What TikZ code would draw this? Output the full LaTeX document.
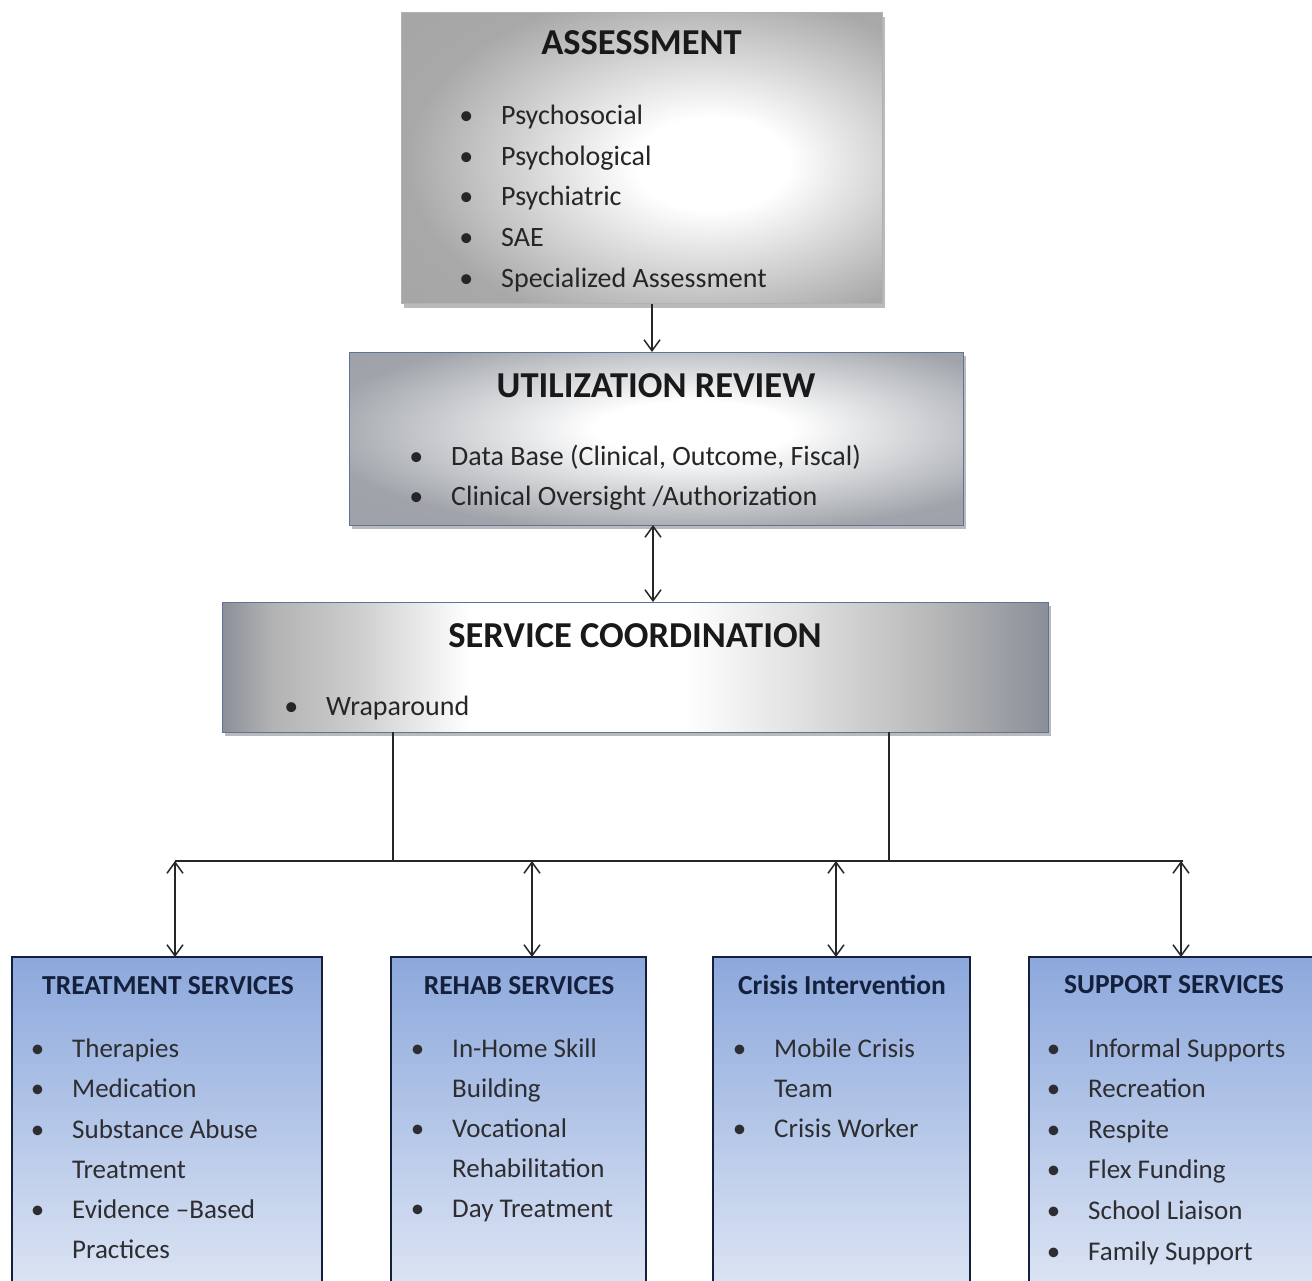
\documentclass[tikz,border=0pt]{standalone}
\usepackage{fontspec}
\setmainfont{Carlito}
\usetikzlibrary{arrows.meta,shadows}
\definecolor{navy}{RGB}{20,32,60}
\definecolor{itemgray}{RGB}{45,45,50}
\definecolor{bluetop}{RGB}{140,168,220}
\definecolor{bluebot}{RGB}{222,230,244}
\definecolor{slate}{RGB}{95,115,150}
\definecolor{midgray}{RGB}{160,164,170}
\definecolor{edgegray}{RGB}{138,143,152}
\pgfdeclareradialshading{shAssess}{\pgfpoint{8bp}{-1bp}}{color(0bp)=(white); color(8bp)=(white); color(30bp)=(black!34); color(100bp)=(black!42)}
\pgfdeclareradialshading{shReview}{\pgfpoint{3.3bp}{3bp}}{color(0bp)=(white); color(8bp)=(white); color(30bp)=(midgray); color(100bp)=(edgegray)}
\pgfdeclarehorizontalshading{shCoord}{100bp}{color(0bp)=(edgegray); color(25bp)=(edgegray); color(28bp)=(black!30); color(33bp)=(black!20); color(40bp)=(white); color(53bp)=(white); color(60bp)=(black!12); color(68bp)=(black!28); color(75bp)=(edgegray); color(100bp)=(edgegray)}
\tikzset{
  topbox/.style={draw, line width=1pt, inner sep=0pt, outer sep=0pt, anchor=north west,
    drop shadow={shadow xshift=3pt, shadow yshift=-4pt, opacity=0.45, fill=black!60}},
  botbox/.style={draw=navy, line width=1.6pt, inner sep=0pt, outer sep=0pt, anchor=north west,
    top color=bluetop, bottom color=bluebot},
  bigtitle/.style={anchor=base, inner sep=0pt, font=\fontsize{36.5}{40}\selectfont\bfseries, text=black!90},
  smalltitle/.style={anchor=base, inner sep=0pt, font=\fontsize{27.5}{32}\selectfont\bfseries, text=navy},
  topitem/.style={anchor=base west, inner sep=0pt, font=\fontsize{28}{34}\selectfont, text=black!85},
  botitem/.style={anchor=base west, inner sep=0pt, font=\fontsize{27}{32}\selectfont, text=itemgray},
  conn/.style={line width=1.6pt, draw=black!85},
  arr/.style={conn, -{Straight Barb[length=11pt,width=16pt,line width=1.5pt]}},
  darr/.style={conn, {Straight Barb[length=11pt,width=16pt,line width=1.5pt]}-{Straight Barb[length=11pt,width=16pt,line width=1.5pt]}}
}
\newcommand{\bul}{\llap{\textbullet\hspace{28pt}}}
\begin{document}
\begin{tikzpicture}[x=1pt,y=-1pt]
\clip (0,0) rectangle (1312,1281);
\fill[white] (0,0) rectangle (1312,1281);

% top boxes
\node[topbox, shading=shAssess, draw=black!30, minimum width=481pt, minimum height=291pt] (assess) at (401,13) {};
\node[topbox, shading=shReview, draw=slate, minimum width=614pt, minimum height=173pt] (review) at (349,352) {};
\node[topbox, shading=shCoord, draw=slate, minimum width=826pt, minimum height=130pt] (coord) at (222,602) {};

% bottom boxes
\node[botbox, minimum width=310pt, minimum height=340pt] (treat) at (12,957) {};
\node[botbox, minimum width=255pt, minimum height=340pt] (rehab) at (391,957) {};
\node[botbox, minimum width=257pt, minimum height=340pt] (crisis) at (713,957) {};
\node[botbox, minimum width=290pt, minimum height=340pt] (support) at (1029,957) {};

% ASSESSMENT text
\node[bigtitle] (tA) at (641.5,55) {ASSESSMENT};
\node[topitem] (a1) at (501,125) {\bul Psychosocial};
\node[topitem] (a2) at (501,166) {\bul Psychological};
\node[topitem] (a3) at (501,206) {\bul Psychiatric};
\node[topitem] (a4) at (501,247) {\bul SAE};
\node[topitem] (a5) at (501,288) {\bul Specialized Assessment};

% UTILIZATION REVIEW text
\node[bigtitle] (tU) at (656,397) {UTILIZATION REVIEW};
\node[topitem] (u1) at (451,465) {\bul Data Base (Clinical, Outcome, Fiscal)};
\node[topitem] (u2) at (451,505) {\bul Clinical Oversight /Authorization};

% SERVICE COORDINATION text
\node[bigtitle] (tS) at (635,647) {SERVICE COORDINATION};
\node[topitem] (s1) at (326,715) {\bul Wraparound};

% TREATMENT SERVICES
\node[smalltitle] (tT) at (168,994) {TREATMENT SERVICES};
\node[botitem] (t1) at (72,1057) {\bul Therapies};
\node[botitem] (t2) at (72,1097) {\bul Medication};
\node[botitem] (t3) at (72,1138) {\bul Substance Abuse};
\node[botitem] (t4) at (72,1178) {Treatment};
\node[botitem] (t5) at (72,1218) {\bul Evidence --Based};
\node[botitem] (t6) at (72,1258) {Practices};

% REHAB SERVICES
\node[smalltitle] (tR) at (519,994) {REHAB SERVICES};
\node[botitem] (r1) at (452,1057) {\bul In-Home Skill};
\node[botitem] (r2) at (452,1097) {Building};
\node[botitem] (r3) at (452,1137) {\bul Vocational};
\node[botitem] (r4) at (452,1177) {Rehabilitation};
\node[botitem] (r5) at (452,1217) {\bul Day Treatment};

% Crisis Intervention
\node[smalltitle] (tC) at (842,994) {Crisis Intervention};
\node[botitem] (c1) at (774,1057) {\bul Mobile Crisis};
\node[botitem] (c2) at (774,1097) {Team};
\node[botitem] (c3) at (774,1137) {\bul Crisis Worker};

% SUPPORT SERVICES
\node[smalltitle] (tP) at (1174,993) {SUPPORT SERVICES};
\node[botitem] (p1) at (1088,1057) {\bul Informal Supports};
\node[botitem] (p2) at (1088,1097) {\bul Recreation};
\node[botitem] (p3) at (1088,1138) {\bul Respite};
\node[botitem] (p4) at (1088,1178) {\bul Flex Funding};
\node[botitem] (p5) at (1088,1219) {\bul School Liaison};
\node[botitem] (p6) at (1088,1260) {\bul Family Support};

% connectors
\coordinate (x1) at (652,0);
\coordinate (x2) at (653,0);
\draw[arr] (assess.south -| x1) -- (review.north -| x1);
\draw[darr] (review.south -| x2) -- (coord.north -| x2);

\coordinate (j1) at (393,861);
\coordinate (j2) at (889,861);
\coordinate (h1) at (175,861);
\coordinate (h2) at (1183,861);
\coordinate (b1) at (175,861);
\coordinate (b2) at (532,861);
\coordinate (b3) at (836,861);
\coordinate (b4) at (1181,861);
\draw[conn] (coord.south -| j1) -- (j1);
\draw[conn] (coord.south -| j2) -- (j2);
\draw[conn] (h1) -- (h2);
\draw[darr] (b1) -- (treat.north -| b1);
\draw[darr] (b2) -- (rehab.north -| b2);
\draw[darr] (b3) -- (crisis.north -| b3);
\draw[darr] (b4) -- (support.north -| b4);
\end{tikzpicture}
\end{document}
